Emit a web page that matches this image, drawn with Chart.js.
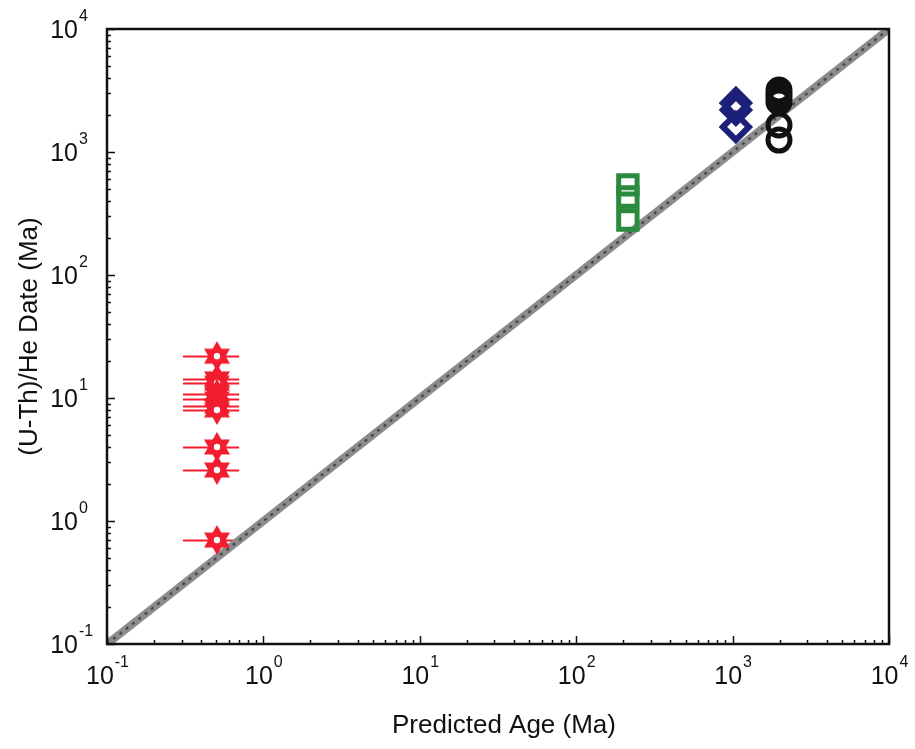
<!DOCTYPE html>
<html>
<head>
<meta charset="utf-8">
<script src="https://cdn.jsdelivr.net/npm/chart.js@4.4.0/dist/chart.umd.min.js"></script>
<style>
  html, body { margin: 0; padding: 0; background: #fff; }
  #wrap { width: 915px; height: 749px; }
</style>
</head>
<body>
<div id="wrap"><canvas id="age-chart" width="915" height="749"></canvas></div>
<script>
// data (Ma)
const starAges = [0.505, 0.505, 0.505, 0.505, 0.505, 0.505, 0.505, 0.505, 0.505, 0.505];
const starDates = [21.9, 14.3, 13.2, 10.8, 9.8, 8.6, 8.0, 4.0, 2.6, 0.70];
const starAgeLow = [0.306, 0.306, 0.306, 0.306, 0.306, 0.306, 0.306, 0.306, 0.306, 0.306];
const starAgeHigh = [0.70, 0.70, 0.70, 0.70, 0.70, 0.70, 0.70, 0.70, 0.70, 0.70];

const squareAges = [214, 214, 214];
const squareDates = [540, 431, 280];

const diamondAges = [1050, 1050, 1050];
const diamondDates = [2500, 2200, 1600];

const circleAges = [1980, 1980, 1980, 1980, 1980, 1980];
const circleDates = [3190, 2960, 2750, 2550, 1660, 1250];

const oneToOne = [0.1, 10000];
const decades = [-1, 0, 1, 2, 3, 4];

const FONT = '"Liberation Sans", Arial, Helvetica, sans-serif';

function pts(xs, ys) {
    return xs.map((x, i) => ({ x: x, y: ys[i] }));
}

// six pointed star marker
function makeStar() {
    const c = document.createElement('canvas');
    c.width = 32; c.height = 32;
    const g = c.getContext('2d');
    const R = 15, r = R / Math.sqrt(3);
    g.fillStyle = '#f21d2f';
    g.beginPath();
    for (let i = 0; i < 12; i++) {
        const a = -Math.PI / 2 + i * Math.PI / 6;
        const rr = i % 2 === 0 ? R : r;
        const px = 16 + rr * Math.cos(a), py = 16 + rr * Math.sin(a);
        if (i === 0) g.moveTo(px, py); else g.lineTo(px, py);
    }
    g.closePath();
    g.fill();
    g.fillStyle = '#fff';
    g.beginPath();
    g.arc(16, 16, 3.2, 0, Math.PI * 2);
    g.fill();
    return c;
}

// horizontal error bars on the stars
const errorBars = {
    id: 'errorBars',
    beforeDatasetsDraw(chart) {
        const ctx = chart.ctx, xs = chart.scales.x, ys = chart.scales.y;
        ctx.save();
        ctx.strokeStyle = '#f21d2f';
        ctx.lineWidth = 2;
        starDates.forEach((d, i) => {
            const y = Math.round(ys.getPixelForValue(d)) + 0.5;
            ctx.beginPath();
            ctx.moveTo(xs.getPixelForValue(starAgeLow[i]), y);
            ctx.lineTo(xs.getPixelForValue(starAgeHigh[i]), y);
            ctx.stroke();
        });
        ctx.restore();
    }
};

function powLabel(ctx, exp, x, y, align) {
    ctx.font = '25px ' + FONT;
    const w1 = ctx.measureText('10').width;
    ctx.font = '16px ' + FONT;
    const w2 = ctx.measureText(String(exp)).width;
    let left = x;
    if (align === 'center') left = x - (w1 + w2) / 2;
    if (align === 'right10') left = x - w1;
    ctx.textAlign = 'left';
    ctx.textBaseline = 'alphabetic';
    ctx.font = '25px ' + FONT;
    ctx.fillText('10', left, y);
    ctx.font = '16px ' + FONT;
    ctx.fillText(String(exp), left + w1 + 1, y - 17);
}

// frame, inward ticks, tick labels and axis titles
const frame = {
    id: 'frame',
    afterDraw(chart) {
        const ctx = chart.ctx, a = chart.chartArea;
        const xs = chart.scales.x, ys = chart.scales.y;
        ctx.save();
        ctx.strokeStyle = '#111';
        ctx.lineWidth = 1.5;
        decades.forEach(d => {
            const v = Math.pow(10, d);
            for (let k = 1; k <= 9; k++) {
                if (d === 4 && k > 1) break;
                const val = k * v;
                const len = k === 1 ? 8 : 4;
                const px = Math.round(xs.getPixelForValue(val)) + 0.5;
                const py = Math.round(ys.getPixelForValue(val)) + 0.5;
                ctx.beginPath();
                ctx.moveTo(px, a.bottom); ctx.lineTo(px, a.bottom - len);
                ctx.moveTo(a.left, py); ctx.lineTo(a.left + len, py);
                ctx.stroke();
            }
        });
        ctx.lineWidth = 2.5;
        ctx.strokeRect(a.left, a.top, a.right - a.left, a.bottom - a.top);

        ctx.fillStyle = '#111';
        decades.forEach(d => {
            const v = Math.pow(10, d);
            powLabel(ctx, d, xs.getPixelForValue(v), 684, 'center');
            powLabel(ctx, d, 78, ys.getPixelForValue(v) + 9, 'right10');
        });

        ctx.font = '26px ' + FONT;
        ctx.textAlign = 'center';
        ctx.textBaseline = 'alphabetic';
        ctx.fillText('Predicted Age (Ma)', (a.left + a.right) / 2 + 6, 733);
        ctx.translate(37, (a.top + a.bottom) / 2);
        ctx.rotate(-Math.PI / 2);
        ctx.fillText('(U-Th)/He Date (Ma)', 0, 0);
        ctx.restore();
    }
};

const ctx = document.getElementById('age-chart').getContext('2d');
const starImg = makeStar();

new Chart(ctx, {
    type: 'scatter',
    data: {
        datasets: [
            {
                type: 'line',
                data: pts(oneToOne, oneToOne),
                borderColor: '#8c8c8c',
                borderWidth: 8,
                pointRadius: 0,
                order: 10
            },
            {
                type: 'line',
                data: pts(oneToOne, oneToOne),
                borderColor: '#4a4a4a',
                borderWidth: 2.5,
                borderDash: [3, 5],
                pointRadius: 0,
                order: 9
            },
            {
                data: pts(starAges, starDates),
                pointStyle: starImg,
                pointRadius: 15,
                order: 5
            },
            {
                data: pts(squareAges, squareDates),
                pointStyle: 'rect',
                pointRadius: 13,
                borderWidth: 5,
                borderColor: '#2a8a3e',
                backgroundColor: 'rgba(0,0,0,0)',
                order: 4
            },
            {
                data: pts(diamondAges, diamondDates),
                pointStyle: 'rectRot',
                pointRadius: 13,
                borderWidth: 6,
                borderColor: '#1d2078',
                backgroundColor: 'rgba(0,0,0,0)',
                order: 3
            },
            {
                data: pts(circleAges, circleDates),
                pointStyle: 'circle',
                pointRadius: 11,
                borderWidth: 5,
                borderColor: '#111',
                backgroundColor: 'rgba(0,0,0,0)',
                order: 2
            }
        ]
    },
    options: {
        responsive: false,
        animation: false,
        layout: { padding: { left: 107, top: 29, right: 26, bottom: 105 } },
        plugins: {
            legend: { display: false },
            tooltip: { enabled: false }
        },
        scales: {
            x: { type: 'logarithmic', min: 0.1, max: 10000, display: false },
            y: { type: 'logarithmic', min: 0.1, max: 10000, display: false }
        }
    },
    plugins: [errorBars, frame]
});
</script>
</body>
</html>
